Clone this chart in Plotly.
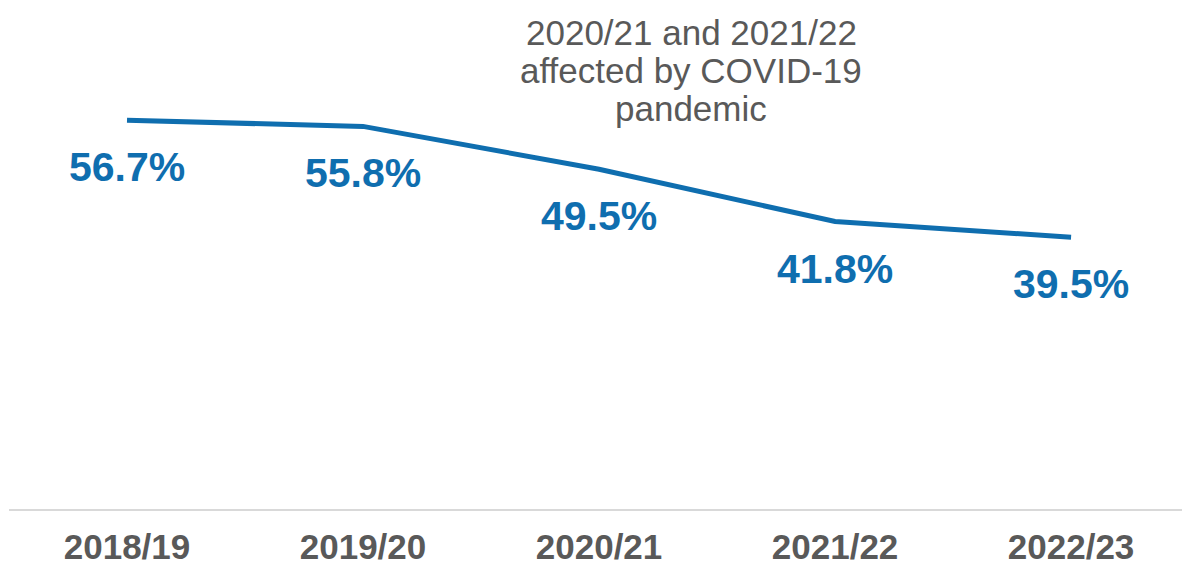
import plotly.graph_objects as go

years = ["2018/19", "2019/20", "2020/21", "2021/22", "2022/23"]
rates = [56.7, 55.8, 49.5, 41.8, 39.5]
note_lines = ["2020/21 and 2021/22", "affected by COVID-19", "pandemic"]

BLUE = "#0F6EAF"
GREY = "#595959"
FONT = "Liberation Sans, Arial, sans-serif"

fig = go.Figure()
fig.add_trace(go.Scatter(
    x=list(range(len(years))), y=rates, mode="lines",
    line=dict(color=BLUE, width=5), hoverinfo="skip", showlegend=False,
))

# value labels under each point
for i, v in enumerate(rates):
    fig.add_annotation(
        x=i, y=v, xref="x", yref="y", text=f"<b>{v:.1f}%</b>", showarrow=False,
        yshift=-47, font=dict(family=FONT, size=41, color=BLUE),
        xanchor="center", yanchor="middle",
    )

# note text
for k, line in enumerate(note_lines):
    fig.add_annotation(
        x=2.39, y=1, xref="x", yref="paper", text=line, showarrow=False,
        yshift=-32 - 38 * k, font=dict(family=FONT, size=35, color=GREY),
        xanchor="center", yanchor="middle",
    )

fig.update_layout(
    width=1182, height=565,
    margin=dict(l=9, r=0, t=0, b=56, autoexpand=False),
    plot_bgcolor="white", paper_bgcolor="white",
    xaxis=dict(
        range=[-0.5, 4.47], tickmode="array", automargin=False,
        tickvals=list(range(len(years))), ticktext=[f"<b>{y}</b>" for y in years],
        tickfont=dict(family=FONT, size=35, color=GREY),
        showgrid=False, zeroline=False, showline=True,
        linecolor="#D9D9D9", linewidth=2, ticks="", ticklabelstandoff=6,
    ),
    yaxis=dict(range=[-0.5, 74.4], visible=False, showgrid=False, zeroline=False,
               automargin=False),
)

fig.write_html("out.html")
